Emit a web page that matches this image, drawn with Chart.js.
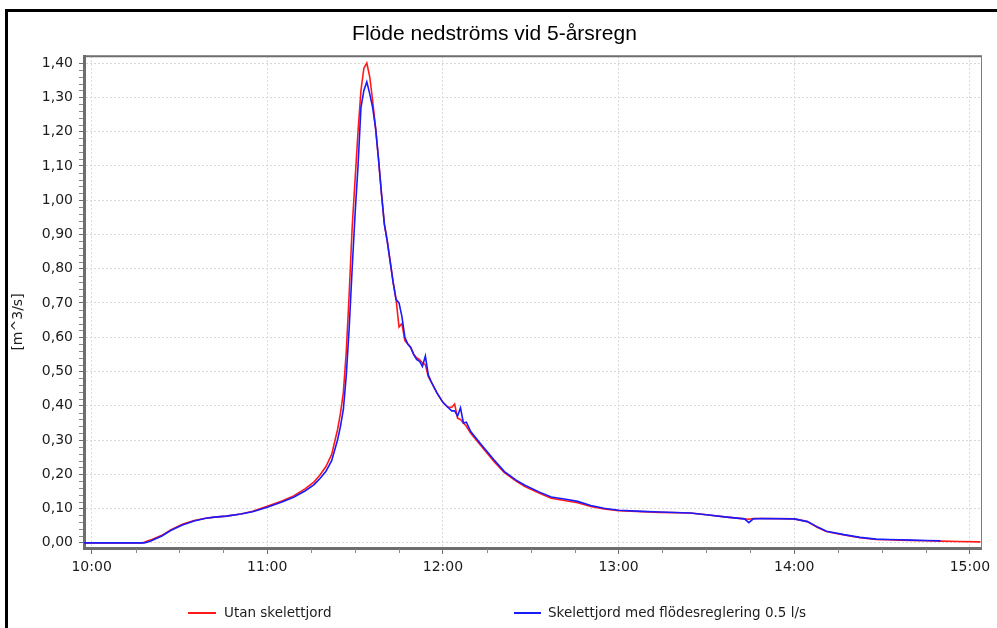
<!DOCTYPE html>
<html>
<head>
<meta charset="utf-8">
<script src="https://cdn.jsdelivr.net/npm/chart.js@4.4.1/dist/chart.umd.min.js"></script>
<style>
  html, body { margin: 0; padding: 0; background: #fff; }
  #wrap { position: relative; width: 997px; height: 628px; overflow: hidden; }
  #frame { position: absolute; left: 5px; top: 9px; width: 1000px; height: 700px; border: 3px solid #000; pointer-events: none; }
  canvas { position: absolute; left: 0; top: 0; }
</style>
</head>
<body>
<div id="wrap">
  <canvas id="flow" width="997" height="628"></canvas>
  <div id="frame"></div>
</div>
<script>
// minutes after 10:00
const minutes = [-2.6, 17, 18, 20, 24, 27, 31, 35, 39, 42, 46, 51, 55, 60, 65, 69, 73, 76, 78, 80,
  82, 84, 85, 86, 87, 88, 89, 90, 91, 92, 93, 94, 95, 96, 97, 98, 99, 100, 101, 102,
  103, 104, 105, 106, 107, 108, 109, 110, 111, 112, 113, 114, 115, 116, 118, 120, 121.5, 123, 124, 125,
  126, 127, 128, 129.5, 133, 137.5, 141, 145, 148, 153, 157, 162, 166, 170.5, 175, 180, 188, 194, 204.5, 210,
  217, 223, 224.5, 226, 229, 240, 244.5, 248, 251, 257, 262.5, 268, 272, 276, 280, 285, 290, 296, 303.6];

// Utan skelettjord [m^3/s]
const utan = [0, 0, 0.002, 0.008, 0.022, 0.038, 0.054, 0.065, 0.072, 0.075, 0.078, 0.084, 0.092, 0.107, 0.122, 0.137, 0.158, 0.178, 0.198, 0.222,
  0.258, 0.33, 0.378, 0.44, 0.56, 0.73, 0.92, 1.06, 1.20, 1.32, 1.385, 1.40, 1.36, 1.29, 1.21, 1.12, 1.02, 0.93, 0.88, 0.82,
  0.76, 0.71, 0.63, 0.64, 0.59, 0.58, 0.57, 0.55, 0.54, 0.535, 0.525, 0.52, 0.485, 0.47, 0.437, 0.41, 0.397, 0.395, 0.405, 0.364,
  0.36, 0.35, 0.34, 0.32, 0.283, 0.237, 0.205, 0.18, 0.164, 0.145, 0.13, 0.123, 0.117, 0.106, 0.099, 0.094, 0.091, 0.089, 0.087, 0.082,
  0.075, 0.070, 0.069, 0.071, 0.071, 0.070, 0.062, 0.045, 0.033, 0.023, 0.015, 0.010, 0.009, 0.008, 0.007, 0.006, 0.005, 0.004, 0.003];

// Skelettjord med flödesreglering 0.5 l/s [m^3/s]
const skelett = [0, 0, 0, 0.005, 0.020, 0.036, 0.052, 0.064, 0.072, 0.075, 0.078, 0.084, 0.091, 0.104, 0.119, 0.133, 0.152, 0.170, 0.188, 0.208,
  0.24, 0.30, 0.34, 0.39, 0.49, 0.63, 0.80, 0.96, 1.10, 1.27, 1.32, 1.345, 1.31, 1.27, 1.21, 1.12, 1.02, 0.93, 0.88, 0.82,
  0.76, 0.71, 0.70, 0.66, 0.60, 0.58, 0.57, 0.55, 0.535, 0.53, 0.515, 0.545, 0.49, 0.47, 0.437, 0.41, 0.397, 0.385, 0.385, 0.37,
  0.394, 0.35, 0.352, 0.325, 0.288, 0.242, 0.208, 0.183, 0.168, 0.148, 0.134, 0.127, 0.121, 0.109, 0.101, 0.095, 0.092, 0.090, 0.087, 0.082,
  0.075, 0.070, 0.059, 0.070, 0.071, 0.070, 0.062, 0.046, 0.034, 0.024, 0.016, 0.011, 0.010, 0.009, 0.008, 0.007, 0.006, null, null];

const seriesNames = ['Utan skelettjord', 'Skelettjord med flödesreglering 0.5 l/s'];
const seriesColors = ['#ff1a1a', '#1a1aff'];

const hourTicks = [0, 60, 120, 180, 240, 300];
const quarterTicks = [15, 30, 45, 75, 90, 105, 135, 150, 165, 195, 210, 225, 255, 270, 285];
const yTicks = [0, 0.1, 0.2, 0.3, 0.4, 0.5, 0.6, 0.7, 0.8, 0.9, 1.0, 1.1, 1.2, 1.3, 1.4];

const labelFont = { family: 'DejaVu Sans', size: 14 };
const textColor = '#1c1c1c';
const axisGray = '#6e6e6e';

function hhmm(m) {
    const h = 10 + Math.floor(m / 60);
    const mm = Math.round(m % 60);
    return h + ':' + String(mm).padStart(2, '0');
}

// extra drawing: plot frame, minor ticks, y title, legend
const decor = {
    id: 'decor',
    afterDraw(chart) {
        const { ctx, chartArea: a, scales: { x, y } } = chart;
        ctx.save();
        ctx.strokeStyle = axisGray;
        ctx.lineWidth = 2;
        ctx.beginPath();
        ctx.moveTo(a.left, a.top);
        ctx.lineTo(a.right + 1, a.top);
        ctx.stroke();
        ctx.lineWidth = 1;
        ctx.strokeStyle = '#7c7c7c';
        ctx.beginPath();
        ctx.moveTo(a.right + 0.5, a.top);
        ctx.lineTo(a.right + 0.5, a.bottom);
        ctx.stroke();

        // minor ticks
        ctx.strokeStyle = '#8a8a8a';
        ctx.beginPath();
        for (let i = 1; i < 70; i++) {
            if (i % 5 === 0) continue;
            const py = Math.round(y.getPixelForValue(i * 0.02)) + 0.5;
            ctx.moveTo(a.left - 5, py);
            ctx.lineTo(a.left - 1, py);
        }
        quarterTicks.forEach(m => {
            const px = Math.round(x.getPixelForValue(m)) + 0.5;
            ctx.moveTo(px, a.bottom + 1);
            ctx.lineTo(px, a.bottom + 5);
        });
        ctx.stroke();

        // y axis title
        ctx.fillStyle = textColor;
        ctx.font = '14px "DejaVu Sans"';
        ctx.textAlign = 'center';
        ctx.textBaseline = 'middle';
        ctx.save();
        ctx.translate(18, 322);
        ctx.rotate(-Math.PI / 2);
        ctx.fillText('[m^3/s]', 0, 0);
        ctx.restore();

        // legend
        const items = [{ x1: 188, x2: 216, tx: 224 }, { x1: 514, x2: 541, tx: 548 }];
        ctx.textAlign = 'left';
        ctx.font = '13.5px "DejaVu Sans"';
        items.forEach((it, i) => {
            ctx.strokeStyle = seriesColors[i];
            ctx.lineWidth = 2;
            ctx.beginPath();
            ctx.moveTo(it.x1, 613);
            ctx.lineTo(it.x2, 613);
            ctx.stroke();
            ctx.fillStyle = textColor;
            ctx.fillText(seriesNames[i], it.tx, 613);
        });
        ctx.restore();
    }
};

const toPoints = vals => minutes.map((m, i) => ({ x: m, y: vals[i] }));

new Chart(document.getElementById('flow'), {
    type: 'line',
    data: {
        datasets: [
            { label: seriesNames[0], data: toPoints(utan), borderColor: seriesColors[0], order: 1 },
            { label: seriesNames[1], data: toPoints(skelett), borderColor: seriesColors[1], order: 0 },
        ]
    },
    options: {
        responsive: false,
        animation: false,
        layout: { padding: { left: 8, right: 16, top: 10, bottom: 50 } },
        elements: {
            line: { borderWidth: 1.6, tension: 0, fill: false },
            point: { radius: 0 }
        },
        scales: {
            x: {
                type: 'linear',
                min: -2.6,
                max: 303.8,
                afterBuildTicks: s => { s.ticks = hourTicks.map(v => ({ value: v })); },
                afterFit: s => { s.height = 30; },
                ticks: {
                    callback: v => hhmm(v),
                    font: labelFont,
                    color: textColor,
                    padding: 5,
                    maxRotation: 0,
                },
                grid: { color: '#d9d9d9', tickColor: axisGray, tickLength: 6, lineWidth: 1 },
                border: { color: axisGray, width: 3, dash: [2, 2] }
            },
            y: {
                min: -0.015,
                max: 1.42,
                afterBuildTicks: s => { s.ticks = yTicks.map(v => ({ value: v })); },
                afterFit: s => { s.width = 76; },
                ticks: {
                    callback: v => v.toFixed(2).replace('.', ','),
                    font: labelFont,
                    color: textColor,
                    padding: 6,
                },
                grid: { color: '#d9d9d9', tickColor: axisGray, tickLength: 5, lineWidth: 1 },
                border: { color: axisGray, width: 3, dash: [2, 2] }
            }
        },
        plugins: {
            legend: { display: false },
            tooltip: { enabled: false },
            title: {
                display: true,
                text: 'Flöde nedströms vid 5-årsregn',
                color: '#000',
                font: { family: 'Liberation Sans', size: 21, weight: 'normal' },
                padding: { top: 12, bottom: 9 }
            }
        }
    },
    plugins: [decor]
});
</script>
</body>
</html>
